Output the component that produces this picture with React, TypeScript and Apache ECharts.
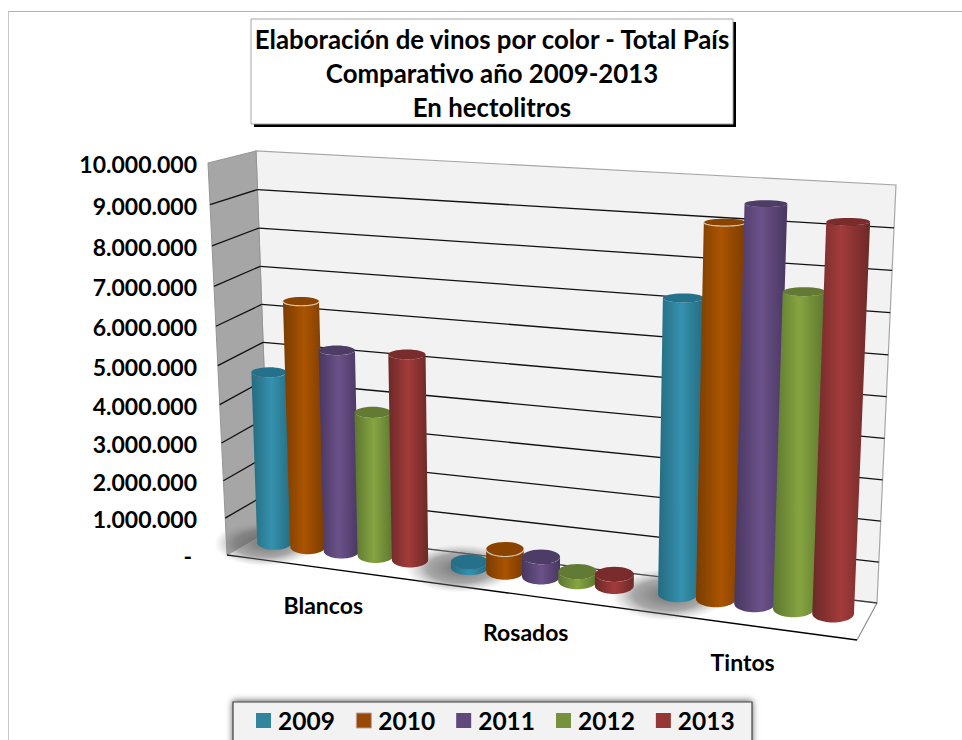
import React, { useEffect, useRef } from "react";
import * as echarts from "echarts";

const categories = ["Blancos", "Rosados", "Tintos"];
const years = ["2009", "2010", "2011", "2012", "2013"];
const v2009 = [4480000, 140000, 7275000];
const v2010 = [6400000, 580000, 9160000];
const v2011 = [5220000, 500000, 9670000];
const v2012 = [3710000, 240000, 7650000];
const v2013 = [5280000, 290000, 9370000];
const seriesValues = [v2009, v2010, v2011, v2012, v2013];
const tickValues = [0, 1000000, 2000000, 3000000, 4000000, 5000000, 6000000, 7000000, 8000000, 9000000, 10000000];
const tickLabels = ["-", "1.000.000", "2.000.000", "3.000.000", "4.000.000", "5.000.000", "6.000.000", "7.000.000", "8.000.000", "9.000.000", "10.000.000"];
const titleLines = ["Elaboración de vinos por color - Total País", "Comparativo año 2009-2013", "En hectolitros"];

const legendColors = ["#31859c", "#984807", "#5f497a", "#76923c", "#953735"];
const edgeColors = ["#256b80", "#7a3c00", "#483760", "#5c7630", "#6c2927"];
const midColors = ["#3591ae", "#aa5400", "#6b5189", "#86a540", "#a33b3b"];
const topColors = ["#25708a", "#8a4400", "#4d3c66", "#627a33", "#7a2b2b"];

const FONT = "Lato";
type P = [number, number];

function quad(p0: P, p1: P, p2: P, p3: P) {
  const [x0, y0] = p0, [x1, y1] = p1, [x2, y2] = p2, [x3, y3] = p3;
  const dx1 = x1 - x2, dx2 = x3 - x2, sx = x0 - x1 + x2 - x3;
  const dy1 = y1 - y2, dy2 = y3 - y2, sy = y0 - y1 + y2 - y3;
  const den = dx1 * dy2 - dx2 * dy1;
  const g = (sx * dy2 - dx2 * sy) / den;
  const h = (dx1 * sy - sx * dy1) / den;
  const a = x1 - x0 + g * x1, b = x3 - x0 + h * x3;
  const d = y1 - y0 + g * y1, e = y3 - y0 + h * y3;
  return (u: number, v: number): P => {
    const w = g * u + h * v + 1;
    return [(a * u + b * v + x0) / w, (d * u + e * v + y0) / w];
  };
}

const K = 0.03;
const warp = (v: number) => (v * (1 + K)) / (1 + K * v);

// back wall, side wall, floor front edge, and the plane the cylinders stand in
const backWall = quad([270, 530], [877, 603], [896, 185], [256, 151]);
const sideWall = quad([227, 555], [270, 530], [256, 151], [208, 163]);
const frontEdge = quad([227, 555], [857, 640], [875, 208], [208, 163]);
const barPlane = quad([246.5, 539], [867, 618], [885, 197], [233, 157]);

const STEP = 0.1755; // of a category band
const WIDTH = 0.184;

function unit(c: number[], r: any) {
  return { u: (c[0] - r.x) / r.width, v: (r.y + r.height - c[1]) / r.height };
}

function cylinder(s: number) {
  return (params: any, api: any) => {
    const r = params.coordSys;
    const c = api.coord([api.value(0), api.value(1)]);
    const band = api.size([1, 0])[0] / r.width;
    const { v } = unit(c, r);
    const u = unit(c, r).u + (s - 2) * STEP * band;
    const du = (WIDTH * band) / 2;
    const vw = warp(v);
    const tl = barPlane(u - du, vw), tr = barPlane(u + du, vw);
    const bl = barPlane(u - du, 0), br = barPlane(u + du, 0);
    const rxT = (tr[0] - tl[0]) / 2, rxB = (br[0] - bl[0]) / 2;
    const ryT = rxT * (0.4 - 0.25 * v), ryB = rxB * 0.42;
    const cxT = (tl[0] + tr[0]) / 2, cyT = (tl[1] + tr[1]) / 2;
    const cxB = (bl[0] + br[0]) / 2, cyB = (bl[1] + br[1]) / 2;
    const pts: number[][] = [[cxT - rxT, cyT]];
    for (let i = 0; i <= 28; i++) {
      const a = Math.PI - (Math.PI * i) / 28;
      pts.push([cxB + rxB * Math.cos(a), cyB + ryB * Math.sin(a)]);
    }
    pts.push([cxT + rxT, cyT]);
    for (let i = 1; i < 28; i++) {
      const a = (Math.PI * i) / 28;
      pts.push([cxT + rxT * Math.cos(a), cyT + ryT * Math.sin(a)]);
    }
    const fill = new echarts.graphic.LinearGradient(0, 0, 1, 0, [
      { offset: 0, color: edgeColors[s] },
      { offset: 0.5, color: midColors[s] },
      { offset: 1, color: edgeColors[s] },
    ]);
    const children: any[] = [
      { type: "polygon", shape: { points: pts }, style: { fill } },
      { type: "ellipse", shape: { cx: cxT, cy: cyT, rx: rxT, ry: ryT }, style: { fill: topColors[s] } },
    ];
    if (s === 1) {
      const rim: number[][] = [];
      for (let i = 0; i <= 24; i++) {
        const a = (Math.PI * i) / 24;
        rim.push([cxT + rxT * Math.cos(a), cyT + ryT * Math.sin(a)]);
      }
      children.push({ type: "polyline", shape: { points: rim }, style: { fill: "none", stroke: "#d8c6b2", lineWidth: 1.2 } });
    }
    return { type: "group", children };
  };
}

function renderWalls() {
  const bw = [backWall(0, 0), backWall(1, 0), backWall(1, 1), backWall(0, 1)];
  const sw = [sideWall(0, 0), sideWall(1, 0), sideWall(1, 1), sideWall(0, 1)];
  const floor = [[227, 555], [857, 640], [877, 603], [270, 530]];
  return {
    type: "group",
    children: [
      { type: "polygon", shape: { points: bw }, style: { fill: "#f2f2f2", stroke: "#a6a6a6", lineWidth: 1.2 } },
      { type: "polygon", shape: { points: sw }, style: { fill: "#a6a6a6", stroke: "#969696", lineWidth: 1 } },
      { type: "polygon", shape: { points: floor }, style: { fill: "#ffffff" } },
      { type: "line", shape: { x1: 857, y1: 640, x2: 877, y2: 603 }, style: { stroke: "#8c8c8c", lineWidth: 1.2 } },
      { type: "line", shape: { x1: 227, y1: 555, x2: 270, y2: 530 }, style: { stroke: "#a6a6a6", lineWidth: 1 } },
      { type: "line", shape: { x1: 227, y1: 555, x2: 857, y2: 640 }, style: { stroke: "#000000", lineWidth: 1.4 } },
    ],
  };
}

function renderGrid(params: any, api: any) {
  const r = params.coordSys;
  const c = api.coord([0, api.value(1)]);
  const v = unit(c, r).v;
  if (v > 0.999) return { type: "group", children: [] };
  const vw = warp(v);
  const a = sideWall(0, vw), b = backWall(0, vw), e = backWall(1, vw);
  const grey = v < 0.001;
  const children: any[] = [
    { type: "line", shape: { x1: b[0], y1: b[1], x2: e[0], y2: e[1] }, style: { stroke: grey ? "#404040" : "#111111", lineWidth: 1.3 } },
  ];
  if (!grey) children.push({ type: "line", shape: { x1: a[0], y1: a[1], x2: b[0], y2: b[1] }, style: { stroke: "#111111", lineWidth: 1.3 } });
  return { type: "group", children };
}

function renderShadow(params: any, api: any) {
  const r = params.coordSys;
  const c = api.coord([api.value(0), 0]);
  const band = api.size([1, 0])[0] / r.width;
  const u = unit(c, r).u - 2 * STEP * band;
  const p = barPlane(u, 0);
  const du = WIDTH * band;
  const rx = (barPlane(u + du, 0)[0] - barPlane(u - du, 0)[0]) * 0.74;
  const fill = new echarts.graphic.RadialGradient(0.5, 0.5, 0.5, [
    { offset: 0, color: "rgba(90,90,90,0.85)" },
    { offset: 0.6, color: "rgba(110,110,110,0.6)" },
    { offset: 1, color: "rgba(160,160,160,0)" },
  ]);
  return { type: "ellipse", shape: { cx: p[0] - 9, cy: p[1] + 1, rx, ry: rx * 0.44 }, style: { fill } };
}

function renderTick(params: any, api: any) {
  const r = params.coordSys;
  const c = api.coord([0, api.value(1)]);
  const v = unit(c, r).v;
  const p = sideWall(0, warp(v));
  const i = params.dataIndex;
  return {
    type: "text",
    x: i === 0 ? 192 : 197,
    y: p[1] + 1,
    style: { text: tickLabels[i], fill: "#000", font: `bold 23px ${FONT}`, align: "right", verticalAlign: "middle" },
  };
}

function renderCat(params: any, api: any) {
  const r = params.coordSys;
  const c = api.coord([api.value(0), 0]);
  const u = unit(c, r).u;
  const p = frontEdge(u, 0);
  return {
    type: "text",
    x: p[0],
    y: p[1] + 37,
    style: { text: categories[params.dataIndex], fill: "#000", font: `bold 23px ${FONT}`, align: "center", verticalAlign: "middle" },
  };
}

export default function App() {
  const ref = useRef<HTMLDivElement>(null);
  useEffect(() => {
    const chart = echarts.init(ref.current!, undefined, { renderer: "svg" });
    const base = { type: "custom", coordinateSystem: "cartesian2d", silent: true, clip: false };
    chart.setOption({
      animation: false,
      backgroundColor: "#ffffff",
      grid: { left: 227, top: 151, width: 650, height: 404 },
      xAxis: { type: "category", data: categories, show: false },
      yAxis: { type: "value", min: 0, max: 10000000, interval: 1000000, show: false },
      title: {
        text: titleLines.join("\n"),
        left: 492,
        top: 22,
        padding: 0,
        textAlign: "center",
        z: 8,
        textStyle: { fontFamily: FONT, fontWeight: "bold", fontSize: 25.8, lineHeight: 34, color: "#000" },
      },
      legend: {
        left: 256,
        top: 708,
        padding: 0,
        icon: "rect",
        itemWidth: 15,
        itemHeight: 15,
        itemGap: 21,
        selectedMode: false,
        z: 8,
        textStyle: { fontFamily: FONT, fontWeight: "bold", fontSize: 24.5, color: "#000", padding: [0, 0, 0, 2] },
        data: years.map((y, i) => (i === 1 ? { name: y, itemStyle: { borderColor: "#b8a596", borderWidth: 1 } } : { name: y })),
      },
      graphic: [
        { type: "line", silent: true, shape: { x1: 8, y1: 11.5, x2: 962, y2: 11.5 }, style: { stroke: "#b4b4b4", lineWidth: 1 } },
        { type: "line", silent: true, shape: { x1: 8.5, y1: 11.5, x2: 8.5, y2: 740 }, style: { stroke: "#c8c8c8", lineWidth: 1 } },
        { type: "rect", silent: true, z: 5, shape: { x: 254, y: 22, width: 482, height: 105 }, style: { fill: "#000" } },
        { type: "rect", silent: true, z: 6, shape: { x: 251, y: 19, width: 482, height: 105 }, style: { fill: "#fff", stroke: "#a6a6a6", lineWidth: 1 } },
        { type: "rect", silent: true, z: 6, shape: { x: 233, y: 702, width: 519, height: 60 }, style: { fill: "#f2f2f2", stroke: "#404040", lineWidth: 1.2, shadowBlur: 6, shadowColor: "rgba(0,0,0,0.6)", shadowOffsetY: -1 } },
      ],
      series: [
        { ...base, name: "walls", data: [[0, 0]], renderItem: renderWalls },
        { ...base, name: "grid", data: tickValues.map((t) => [0, t]), renderItem: renderGrid },
        { ...base, name: "shadow", data: categories.map((_, i) => [i, 0]), renderItem: renderShadow },
        ...years.map((y, s) => ({
          ...base,
          name: y,
          itemStyle: { color: legendColors[s] },
          data: categories.map((_, i) => [i, seriesValues[s][i]]),
          renderItem: cylinder(s),
        })),
        { ...base, name: "ticks", data: tickValues.map((t) => [0, t]), renderItem: renderTick },
        { ...base, name: "cats", data: categories.map((_, i) => [i, 0]), renderItem: renderCat },
      ],
    });
    return () => chart.dispose();
  }, []);
  return <div ref={ref} style={{ position: "absolute", left: 0, top: 0, width: 962, height: 740, overflow: "hidden" }} />;
}
